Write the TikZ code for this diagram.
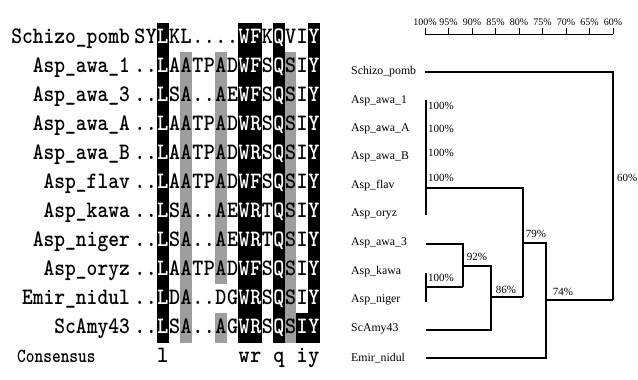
\documentclass[tikz,border=0pt]{standalone}
\usepackage{fontspec}
\usetikzlibrary{calc}
\newfontfamily\tf{Liberation Serif}
\newcommand\seqfont{\fontfamily{lmtt}\fontseries{b}\fontsize{21}{24}\selectfont}
\newcommand\namefont{\fontfamily{lmtt}\fontseries{b}\fontsize{20.5}{24}\selectfont}
\newcommand\consfont{\fontfamily{lmtt}\fontseries{b}\fontsize{16.6}{20}\selectfont}
\colorlet{fk}{black}\colorlet{tk}{white}
\colorlet{fg}{black!38}\colorlet{tg}{black}
\colorlet{fw}{white}\colorlet{tw}{black}
\tikzset{
  cell/.style={minimum width=11.6pt, minimum height=29.2pt, inner sep=0pt, outer sep=0pt,
    text height=15pt, text depth=4pt, font=\seqfont},
  seqname/.style={anchor=east, inner sep=0pt, text height=15pt, text depth=4pt, font=\namefont},
  leaf/.style={anchor=west, inner sep=0pt, font=\tf\fontsize{11.8}{13}\selectfont},
  pct/.style={inner sep=0pt, font=\tf\fontsize{11}{12}\selectfont},
  ruler/.style={inner sep=0pt, font=\tf\fontsize{10}{11}\selectfont},
  branch/.style={line width=1.3pt},
}
\newcommand\seqrow[2]{%
  \foreach \ch/\f [count=\c] in {#2} {
    \node[cell, fill=f\f, text=t\f] (s#1-\c) at ({134+(\c-0.5)*11.6}, {38+#1*29}) {\scalebox{1}[1.12]{\ch}};
  }}
\begin{document}
\begin{tikzpicture}[x=1pt,y=-1pt]
\useasboundingbox[fill=white] (0,0) rectangle (638,380);
% ---------- alignment ----------
\seqrow{0}{S/w,Y/w,L/k,K/w,L/w,./w,./w,./w,./w,W/k,F/k,K/w,Q/k,V/w,I/w,Y/k}
\seqrow{1}{./w,./w,L/k,A/w,A/g,T/w,P/w,A/g,D/w,W/k,F/k,S/w,Q/k,S/g,I/w,Y/k}
\seqrow{2}{./w,./w,L/k,S/w,A/g,./w,./w,A/g,E/w,W/k,F/k,S/w,Q/k,S/g,I/w,Y/k}
\seqrow{3}{./w,./w,L/k,A/w,A/g,T/w,P/w,A/g,D/w,W/k,R/k,S/w,Q/k,S/g,I/w,Y/k}
\seqrow{4}{./w,./w,L/k,A/w,A/g,T/w,P/w,A/g,D/w,W/k,R/k,S/w,Q/k,S/g,I/w,Y/k}
\seqrow{5}{./w,./w,L/k,A/w,A/g,T/w,P/w,A/g,D/w,W/k,F/k,S/w,Q/k,S/g,I/w,Y/k}
\seqrow{6}{./w,./w,L/k,S/w,A/g,./w,./w,A/g,E/w,W/k,R/k,T/w,Q/k,S/g,I/w,Y/k}
\seqrow{7}{./w,./w,L/k,S/w,A/g,./w,./w,A/g,E/w,W/k,R/k,T/w,Q/k,S/g,I/w,Y/k}
\seqrow{8}{./w,./w,L/k,A/w,A/g,T/w,P/w,A/g,D/w,W/k,F/k,S/w,Q/k,S/g,I/w,Y/k}
\seqrow{9}{./w,./w,L/k,D/w,A/g,./w,./w,D/w,G/w,W/k,R/k,S/w,Q/k,S/g,I/w,Y/k}
\seqrow{10}{./w,./w,L/k,S/w,A/g,./w,./w,A/g,G/w,W/k,R/k,S/w,Q/k,S/g,I/k,Y/k}
\foreach \nm [count=\r from 0] in {Schizo\_pomb,Asp\_awa\_1,Asp\_awa\_3,Asp\_awa\_A,Asp\_awa\_B,Asp\_flav,Asp\_kawa,Asp\_niger,Asp\_oryz,Emir\_nidul,ScAmy43}
  \node[seqname] (n\r) at (130,{38+\r*29}) {\scalebox{1}[1.15]{\nm}};
\node[anchor=west, inner sep=0pt, text height=15pt, text depth=4pt, font=\consfont] (cons) at (17,357) {\scalebox{1}[1.2]{Consensus}};
\foreach \ch/\c in {l/3,w/10,r/11,q/13,i/15,y/16}
  \node[cell] (k\c) at ({134+(\c-0.5)*11.6},357) {\scalebox{1}[1.12]{\ch}};
% ---------- ruler ----------
\coordinate (r0) at (425,34);
\coordinate (r8) at (613,34);
\draw[line width=1pt] (r0) -- (r8);
\foreach \p [count=\i from 0] in {100,95,90,85,80,75,70,65,60} {
  \draw[line width=1pt] ($(r0)+(\i*23.5,0)$) -- ++(0,-6);
  \node[ruler] (rl\i) at ($(r0)+(\i*23.5,-12)$) {\p\%};
}
% ---------- tree leaves ----------
\foreach \nm/\yy [count=\i] in {Schizo\_pomb/72,Asp\_awa\_1/101,Asp\_awa\_A/129,Asp\_awa\_B/157,Asp\_flav/186,Asp\_oryz/214,Asp\_awa\_3/243,Asp\_kawa/272,Asp\_niger/300,ScAmy43/329,Emir\_nidul/358}
  \node[leaf] (t\i) at (351,\yy) {\nm};
% ---------- tree branches ----------
\coordinate (a1) at (425,72);  \coordinate (a2) at (613,72);  \coordinate (a3) at (613,300);
\coordinate (b1) at (426,100); \coordinate (b2) at (426,215);
\coordinate (b3) at (426,188); \coordinate (b4) at (523,188); \coordinate (b5) at (523,297);
\coordinate (c1) at (426,244); \coordinate (c2) at (463,244); \coordinate (c3) at (463,287);
\coordinate (d1) at (426,273); \coordinate (d2) at (426,302); \coordinate (d3) at (426,287);
\coordinate (e1) at (463,266); \coordinate (e2) at (491,266); \coordinate (e3) at (491,330); \coordinate (e4) at (426,330);
\coordinate (f1) at (491,297);
\coordinate (g1) at (523,243); \coordinate (g2) at (546,243); \coordinate (g3) at (546,358); \coordinate (g4) at (426,358);
\coordinate (h1) at (546,300);
\draw[branch] (a1) -- (a2) -- (a3);
\draw[branch] (b1) -- (b2);
\draw[branch] (b3) -- (b4) -- (b5);
\draw[branch] (c1) -- (c2) -- (c3);
\draw[branch] (d1) -- (d2);
\draw[branch] (d3) -- (c3);
\draw[branch] (e1) -- (e2) -- (e3) -- (e4);
\draw[branch] (f1) -- (b5);
\draw[branch] (g1) -- (g2) -- (g3) -- (g4);
\draw[branch] (h1) -- (a3);
% ---------- percentages ----------
\foreach \yy [count=\i] in {106,129,153,178}
  \node[pct, anchor=west] (p\i) at (428,\yy) {100\%};
\node[pct, anchor=west] (p5) at (428,278) {100\%};
\node[pct] (p92) at (477,257) {92\%};
\node[pct] (p86) at (506,290) {86\%};
\node[pct] (p79) at (536,234) {79\%};
\node[pct] (p74) at (563,292) {74\%};
\node[pct, anchor=west] (p60) at (617,178) {60\%};
\end{tikzpicture}
\end{document}
